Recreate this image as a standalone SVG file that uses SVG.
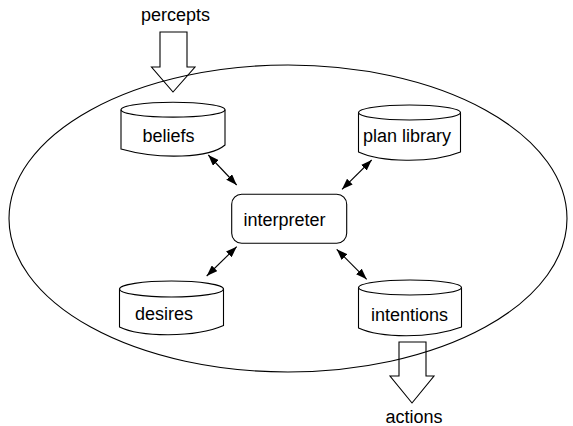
<svg xmlns="http://www.w3.org/2000/svg" width="573" height="426" viewBox="0 0 573 426">
  <style>
    .line { fill: none; stroke: #000; stroke-width: 1.1; }
    .shape { fill: #fff; stroke: #000; stroke-width: 1.1; }
    .label { font-family: "Liberation Sans", Arial, Helvetica, sans-serif; font-size: 18px; fill: #000; text-anchor: middle; }
  </style>
  <defs>
    <marker id="head" markerUnits="userSpaceOnUse" markerWidth="11" markerHeight="8" refX="11" refY="4" orient="auto-start-reverse">
      <path d="M0,0 L11,4 L0,8 z" fill="#000"/>
    </marker>
  </defs>

  <!-- agent boundary -->
  <ellipse id="agent" class="line" cx="288" cy="218.5" rx="279" ry="153.5"/>

  <!-- input / output block arrows -->
  <g id="percepts">
    <path class="line" d="M160,32 L187,32 L187,67 L195,67 L173,92 L151.5,67 L160,67 z"/>
    <text class="label" x="175.5" y="21">percepts</text>
  </g>
  <g id="actions">
    <path class="line" d="M399,342 L426,342 L426,376 L434,376 L412,403 L390,376 L399,376 z"/>
    <text class="label" x="414" y="423">actions</text>
  </g>

  <!-- data stores -->
  <g id="beliefs">
    <path class="shape" d="M121,109.7 L121,149 C160,160 210,158 225,145 L225,109.7"/>
    <ellipse class="shape" cx="173" cy="109.7" rx="52" ry="7.4"/>
    <text class="label" x="168.5" y="141.7">beliefs</text>
  </g>
  <g id="plan-library">
    <path class="shape" d="M358.5,112.5 L358.5,152 C380,162 430,164 460.5,152 L460.5,112.5"/>
    <ellipse class="shape" cx="409.5" cy="112.5" rx="51" ry="7.5"/>
    <text class="label" x="407" y="141.7">plan library</text>
  </g>
  <g id="desires">
    <path class="shape" d="M119.5,289 L119.5,327 C140,337 195,338 223.5,325.5 L223.5,289"/>
    <ellipse class="shape" cx="171.5" cy="289" rx="52" ry="8"/>
    <text class="label" x="164" y="319.7">desires</text>
  </g>
  <g id="intentions">
    <path class="shape" d="M358.5,287.5 L358.5,328 C380,338 430,339 461.5,327 L461.5,287.5"/>
    <ellipse class="shape" cx="410" cy="287.5" rx="51.5" ry="7.5"/>
    <text class="label" x="409.5" y="321">intentions</text>
  </g>

  <!-- reasoning engine -->
  <g id="interpreter">
    <rect class="shape" x="231.7" y="194.3" width="115" height="49" rx="10" ry="10"/>
    <text class="label" x="284.5" y="226">interpreter</text>
  </g>

  <!-- two-way links between the interpreter and the stores -->
  <g id="connectors" class="line" marker-start="url(#head)" marker-end="url(#head)">
    <line x1="208.3" y1="155" x2="236.7" y2="185" marker-start="url(#head)" marker-end="url(#head)"/>
    <line x1="371.7" y1="160" x2="342" y2="189.3" marker-start="url(#head)" marker-end="url(#head)"/>
    <line x1="236.7" y1="246.7" x2="206.7" y2="276" marker-start="url(#head)" marker-end="url(#head)"/>
    <line x1="336.7" y1="249.3" x2="366.7" y2="279.3" marker-start="url(#head)" marker-end="url(#head)"/>
  </g>
</svg>
